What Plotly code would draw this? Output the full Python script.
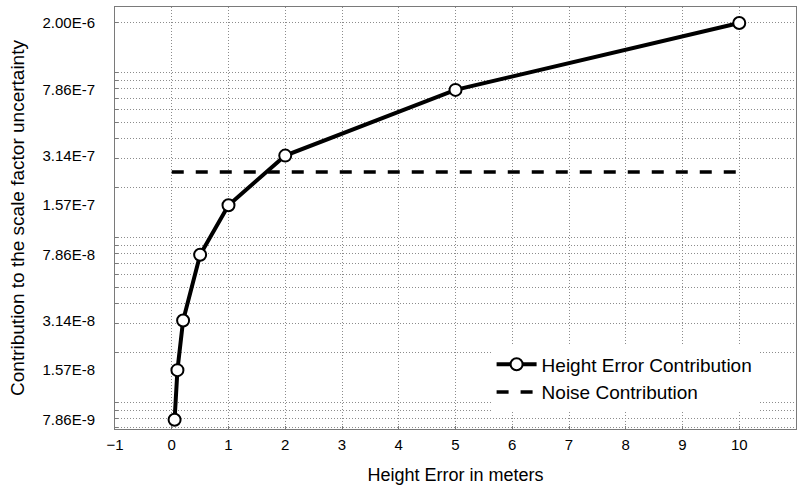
import plotly.graph_objects as go

# ---- data ----
height_error_m = [0.05, 0.1, 0.2, 0.5, 1, 2, 5, 10]
height_contrib = [7.86e-9, 1.57e-8, 3.14e-8, 7.86e-8, 1.57e-7, 3.14e-7, 7.86e-7, 2.00e-6]
noise_x = [0, 10]
noise_contrib = [2.5e-7, 2.5e-7]

y_tick_vals = [7.86e-9, 1.57e-8, 3.14e-8, 7.86e-8, 1.57e-7, 3.14e-7, 7.86e-7, 2.00e-6]
y_tick_text = ["7.86E-9", "1.57E-8", "3.14E-8", "7.86E-8", "1.57E-7", "3.14E-7", "7.86E-7", "2.00E-6"]
x_tick_vals = list(range(-1, 12))

# log minor grid positions (1..9 x 10^n)
minor_vals = [m * 10.0 ** e for e in range(-9, -5) for m in range(1, 10)]

FONT = "Liberation Sans, Arial, sans-serif"
GRID = "#8c8c8c"

fig = go.Figure()
fig.add_trace(go.Scatter(
    x=height_error_m, y=height_contrib, mode="lines+markers",
    name="Height Error Contribution",
    line=dict(color="black", width=4),
    marker=dict(symbol="circle", size=12, color="white",
                line=dict(color="black", width=2)),
))
fig.add_trace(go.Scatter(
    x=noise_x, y=noise_contrib, mode="lines",
    name="Noise Contribution",
    line=dict(color="black", width=3.5, dash="12px,12px"),
))

fig.update_layout(
    width=803, height=491,
    margin=dict(l=115, r=7, t=7, b=62),
    paper_bgcolor="white", plot_bgcolor="white",
    font=dict(family=FONT, color="black"),
    showlegend=True,
    legend=dict(x=0.553, y=0.198, xanchor="left", yanchor="top",
                bgcolor="white", borderwidth=0,
                font=dict(size=19, family=FONT, color="black"),
                itemwidth=40, tracegroupgap=0),
)

fig.update_xaxes(
    range=[-1, 11], tickvals=x_tick_vals,
    showgrid=True, gridcolor=GRID, griddash="1px,2px", gridwidth=1,
    showline=True, mirror=True, linecolor="#7a7a7a", linewidth=1,
    ticks="inside", ticklen=3, tickcolor="#7a7a7a",
    zeroline=False,
    tickfont=dict(size=15, family=FONT),
    ticklabelstandoff=2,
    title=dict(text="Height Error in meters", font=dict(size=18, family=FONT), standoff=16),
)

fig.update_yaxes(
    type="log", range=[-8.161, -5.602],
    tickvals=y_tick_vals, ticktext=y_tick_text,
    showgrid=False,
    showline=True, mirror=True, linecolor="#7a7a7a", linewidth=1,
    ticks="", zeroline=False,
    tickfont=dict(size=15, family=FONT),
    ticklabelstandoff=16,
    minor=dict(tickvals=minor_vals, showgrid=True, gridcolor=GRID,
               griddash="1px,2px", gridwidth=1, ticks="inside", ticklen=3,
               tickcolor="#7a7a7a"),
    title=dict(text="Contribution to the scale factor uncertainty",
               font=dict(size=19, family=FONT), standoff=12),
)

fig.write_html("out.html",
               config={"displayModeBar": False},
               post_script="document.body.style.margin='0';document.body.style.overflow='hidden';")
